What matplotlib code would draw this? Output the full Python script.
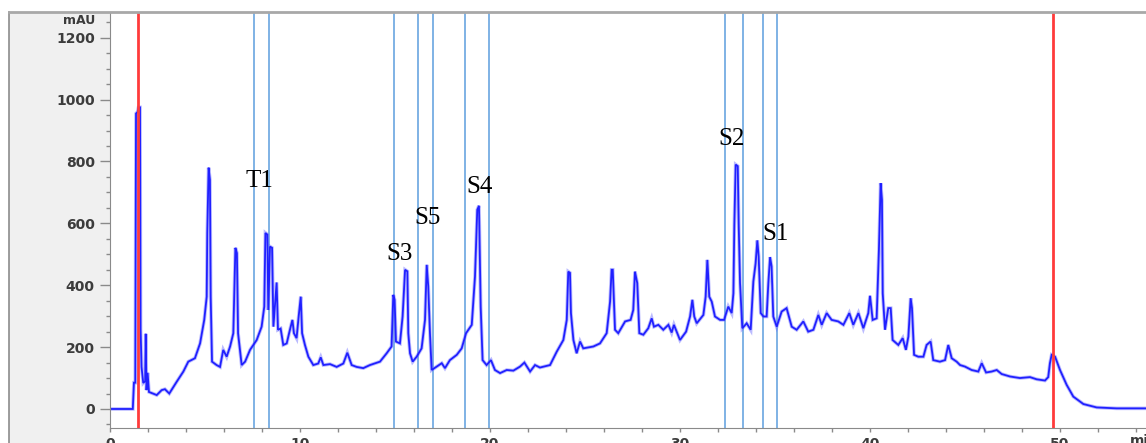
import matplotlib
matplotlib.use("Agg")
import matplotlib.pyplot as plt
from matplotlib.patches import Rectangle
from matplotlib.lines import Line2D
from matplotlib.ticker import MultipleLocator

# Chromatogram trace (time in min, absorbance in mAU)
time_min = [
    0.0, 1.2, 1.26, 1.33, 1.37, 1.45, 1.5, 1.58, 1.61, 1.66, 1.75, 1.85, 1.88, 1.92,
    1.98, 2.05, 2.46, 2.72, 2.89, 3.12, 3.51, 3.86, 4.12, 4.47, 4.74, 4.96, 5.09,
    5.12, 5.19, 5.26, 5.30, 5.37, 5.61, 5.79, 5.96, 6.14, 6.32, 6.49, 6.60, 6.68,
    6.74, 6.93, 7.11, 7.37, 7.72, 7.98, 8.12, 8.18, 8.28, 8.33, 8.42, 8.53, 8.60,
    8.70, 8.77, 8.84, 8.98, 9.12, 9.30, 9.47, 9.60, 9.68, 9.82, 9.93, 10.04, 10.11,
    10.26, 10.44, 10.70, 10.96, 11.09, 11.23, 11.58, 11.93, 12.28, 12.49, 12.72,
    12.98, 13.33, 13.51, 13.68, 14.21, 14.56, 14.82, 14.91, 14.98, 15.05, 15.26,
    15.40, 15.53, 15.65, 15.70, 15.79, 15.93, 16.14, 16.40, 16.58, 16.67, 16.75,
    16.84, 16.93, 17.19, 17.46, 17.63, 17.89, 18.25, 18.51, 18.74, 19.04, 19.21,
    19.33, 19.42, 19.51, 19.61, 19.82, 20.05, 20.26, 20.53, 20.88, 21.23, 21.58,
    21.81, 22.11, 22.37, 22.63, 23.16, 23.51, 23.86, 24.04, 24.12, 24.21, 24.26,
    24.39, 24.56, 24.74, 24.91, 25.44, 25.79, 26.14, 26.32, 26.40, 26.46, 26.58,
    26.75, 27.11, 27.40, 27.54, 27.63, 27.75, 27.86, 28.07, 28.33, 28.51, 28.63,
    28.86, 29.12, 29.39, 29.56, 29.68, 30.0, 30.32, 30.53, 30.65, 30.75, 30.88,
    31.23, 31.35, 31.44, 31.54, 31.67, 31.84, 32.11, 32.32, 32.54, 32.72, 32.81,
    32.86, 32.93, 33.04, 33.09, 33.16, 33.28, 33.51, 33.72, 33.86, 33.98, 34.07,
    34.14, 34.25, 34.39, 34.56, 34.65, 34.74, 34.82, 34.91, 35.09, 35.35, 35.61,
    35.88, 36.14, 36.49, 36.75, 37.02, 37.28, 37.46, 37.72, 37.98, 38.33, 38.60,
    38.91, 39.12, 39.39, 39.65, 39.91, 40.0, 40.14, 40.35, 40.47, 40.56, 40.63,
    40.67, 40.79, 40.96, 41.09, 41.19, 41.49, 41.72, 41.89, 42.02, 42.14, 42.21,
    42.32, 42.54, 42.81, 42.98, 43.19, 43.33, 43.68, 43.95, 44.12, 44.30, 44.56,
    44.74, 45.0, 45.35, 45.70, 45.88, 46.11, 46.40, 46.67, 46.93, 47.37, 47.89,
    48.42, 48.77, 49.21, 49.38, 49.47, 49.56, 49.74, 50.0, 50.35, 50.70, 51.23,
    51.93, 52.98, 54.5,
]
mau = [
    0, 0, 85, 85, 955, 960, 975, 975, 259, 136, 84, 90, 243, 61,
    117, 55, 45, 61, 64, 50, 88, 121, 153, 164, 212, 288, 363,
    569, 780, 741, 363, 153, 142, 136, 191, 169, 202, 245, 521, 504,
    245, 142, 153, 191, 223, 266, 331, 569, 564, 320, 525, 521, 266,
    353, 409, 256, 260, 207, 212, 256, 288, 245, 229, 299, 363, 245,
    207, 169, 142, 147, 167, 142, 145, 136, 147, 182, 142,
    136, 132, 137, 142, 153, 180, 202, 369, 353, 218, 212,
    299, 450, 445, 245, 180, 153, 169, 196, 288, 466, 396,
    245, 126, 137, 148, 132, 158, 175, 196, 245, 272, 428,
    644, 657, 331, 158, 142, 158, 126, 116, 126, 124, 137,
    150, 121, 142, 134, 142, 185, 223, 288, 444, 440, 310,
    223, 180, 218, 196, 202, 212, 245, 347, 450, 450, 256,
    245, 283, 288, 320, 444, 407, 245, 240, 261, 293, 266,
    272, 256, 272, 247, 272, 223, 250, 299, 353, 299, 277,
    304, 363, 482, 363, 347, 299, 288, 288, 331, 310, 374,
    595, 790, 785, 595, 407, 261, 277, 256, 412, 471, 545,
    493, 310, 299, 299, 407, 491, 461, 299, 266, 315, 326,
    266, 256, 283, 250, 256, 304, 272, 310, 288, 283, 272,
    310, 272, 310, 261, 310, 366, 288, 293, 515, 730, 676,
    374, 256, 326, 326, 223, 207, 229, 191, 234, 358, 326,
    175, 169, 169, 207, 218, 158, 153, 158, 207, 164, 153,
    142, 137, 126, 121, 148, 118, 121, 126, 113, 105, 100,
    103, 96, 92, 103, 148, 175, 169, 126, 78, 40, 16,
    5, 2, 2,
]

# marker lines
red_lines = [1.46, 49.65]
blue_lines = [7.56, 8.35, 14.96, 16.19, 17.0, 18.68, 19.96, 32.39, 33.32, 34.39, 35.12]

# peak names and where they are written
peak_names = ["T1", "S3", "S5", "S4", "S2", "S1"]
label_t = [7.89, 15.26, 16.72, 19.47, 32.72, 35.04]
label_v = [738, 501, 618, 719, 874, 566]

W, H = 1146, 443
fig = plt.figure(figsize=(W / 100, H / 100), dpi=100)
fig.patch.set_facecolor("white")

# grey panel on the left, like the instrument software
fig.patches.append(Rectangle((9 / W, 0), (110 - 9) / W, 1 - 12 / H, transform=fig.transFigure,
                             facecolor="#f0f0f0", edgecolor="none", zorder=-5))
fig.lines.append(Line2D([9 / W, 9 / W], [0, 1 - 12 / H], transform=fig.transFigure,
                        color="#8c8c8c", lw=1.2, zorder=-4))
fig.lines.append(Line2D([9 / W, 1], [1 - 12 / H, 1 - 12 / H], transform=fig.transFigure,
                        color="#a8a8a8", lw=2, zorder=5))

ax = fig.add_axes([110 / W, 15.3 / H, 1 - 110 / W, (428 - 13) / H])
ax.set_facecolor("white")
ax.set_xlim(0, (W - 110) / 19.0)
ax.set_ylim(-60.5, 1281)

for x in blue_lines:
    ax.axvline(x, color="#7fb2e5", lw=1.4, zorder=1)
for x in red_lines:
    ax.axvline(x, color="#ff3b3b", lw=2, zorder=3)

ax.plot(time_min, mau, color="#6a6aff", lw=2.6, alpha=0.45, zorder=2, solid_joinstyle="miter")
ax.plot(time_min, mau, color="#2020ff", lw=1.3, zorder=2, solid_joinstyle="miter")

for name, t, v in zip(peak_names, label_t, label_v):
    ax.text(t, v, name, ha="center", va="center", fontsize=18,
            family="Liberation Serif", color="black", zorder=4)

# axes styling
for side in ["top", "right"]:
    ax.spines[side].set_visible(False)
ax.spines["left"].set_color("#8a8a8a")
ax.spines["bottom"].set_color("#8a8a8a")

ax.yaxis.set_major_locator(MultipleLocator(200))
ax.yaxis.set_minor_locator(MultipleLocator(50))
ax.xaxis.set_major_locator(MultipleLocator(10))
ax.xaxis.set_minor_locator(MultipleLocator(2))
ax.tick_params(axis="y", which="major", length=7, width=1, color="#8a8a8a", pad=4,
               labelsize=10, labelcolor="#3c3c3c")
ax.tick_params(axis="y", which="minor", length=3, width=1, color="#8a8a8a")
ax.tick_params(axis="x", which="major", length=3, width=1, color="#8a8a8a", pad=4,
               labelsize=10, labelcolor="#3c3c3c")
ax.tick_params(axis="x", which="minor", length=3, width=1, color="#8a8a8a")

yt = [v for v in range(0, 1201, 200)]
ax.set_yticks(yt)
ax.set_yticklabels([str(v) for v in yt], fontweight="bold")
ax.set_xticks(range(0, 51, 10))
ax.set_xticklabels([str(v) for v in range(0, 51, 10)], fontweight="bold")

fig.text(95 / W, 1 - 20 / H, "mAU", ha="right", va="center", fontsize=9,
         fontweight="bold", color="#3c3c3c")
fig.text(1130 / W, 1 - 441 / H, "min", ha="left", va="center", fontsize=10,
         fontweight="bold", color="#3c3c3c")

fig.savefig("out.png", dpi=100, facecolor="white")
